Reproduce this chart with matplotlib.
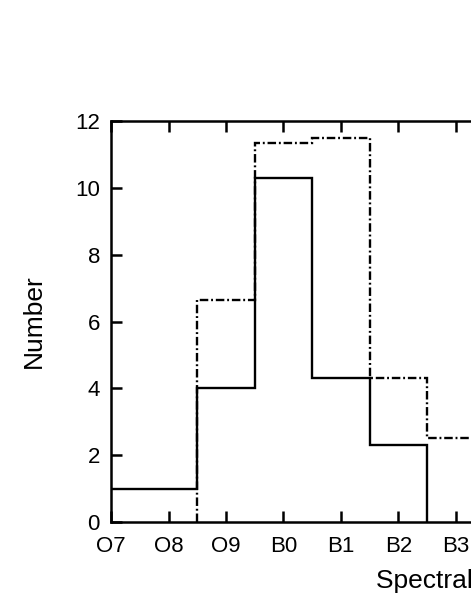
import matplotlib
matplotlib.use("Agg")
import matplotlib.pyplot as plt

plt.rcParams['font.family'] = ['Liberation Sans', 'DejaVu Sans']

tick_labels = ['O7', 'O8', 'O9', 'B0', 'B1', 'B2', 'B3', 'B4', 'B5', 'B6', 'B7', 'B8', 'B9']

# solid histogram, bins O7..B2
solid_edges = [-0.5, 0.5, 1.5, 2.5, 3.5, 4.5, 5.5]
solid_counts = [1, 1, 4, 10.3, 4.3, 2.3]

# dash-dot histogram, bins O9..B3 (rest outside the crop)
dashdot_edges = [1.5, 2.5, 3.5, 4.5, 5.5, 6.5]
dashdot_counts = [6.65, 11.35, 11.5, 4.3, 2.5]

fig = plt.figure(figsize=(4.71, 6.09), dpi=100)
ax = fig.add_axes([111/471, 87/609, 690/471, 401/609])

ax.stairs(dashdot_counts, dashdot_edges, baseline=0, color='black', lw=1.7,
          linestyle=(0, (3.6, 1.2, 0.8, 1.2)), zorder=2)
ax.stairs(solid_counts, solid_edges, baseline=0, color='black', lw=1.7, zorder=3)

ax.set_xlim(0, 12)
ax.set_ylim(0, 12)
ax.set_xticks(range(len(tick_labels)))
ax.set_xticklabels(tick_labels)
ax.set_yticks(range(0, 13, 2))

for s in ax.spines.values():
    s.set_linewidth(1.8)
ax.tick_params(direction='in', length=8, width=1.8, top=True, right=True,
               labelsize=16)
ax.tick_params(axis='x', pad=10)
ax.tick_params(axis='y', pad=8)

ax.set_ylabel('Number', fontsize=19, labelpad=21)
ax.set_xlabel('Spectral Type', fontsize=19, labelpad=9)

fig.savefig('out.png', dpi=100)
